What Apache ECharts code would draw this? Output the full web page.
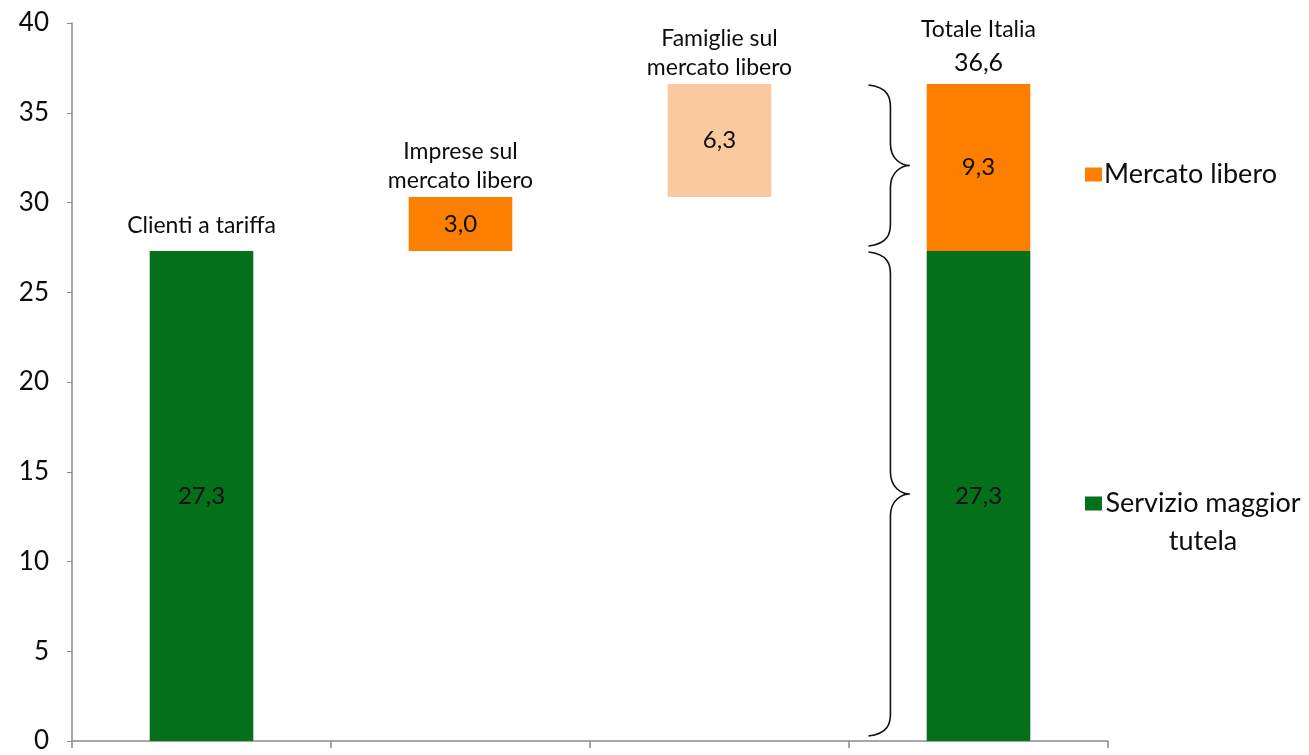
<!DOCTYPE html>
<html>
<head>
<meta charset="utf-8">
<script src="https://cdn.jsdelivr.net/npm/echarts@6/dist/echarts.min.js"></script>
<style>
html,body{margin:0;padding:0;background:#fff;}
#chart{width:1309px;height:755px;}
</style>
</head>
<body>
<div id="chart"></div>
<script>
// ---- data ----
const categories = ['Clienti a tariffa', 'Imprese sul mercato libero', 'Famiglie sul mercato libero', 'Totale Italia'];
const topLabels = ['Clienti a tariffa', 'Imprese sul\nmercato libero', 'Famiglie sul\nmercato libero', 'Totale Italia'];
const baseOffset = [0, 27.3, 30.3, 0];
const maggiorTutela = [27.3, '-', '-', 27.3];
const mercatoLibero = ['-', 3.0, '-', 9.3];
const famiglie = ['-', '-', 6.3, '-'];
const yTicks = [0, 5, 10, 15, 20, 25, 30, 35, 40];

// ---- helpers ----
const num = v => (typeof v === 'number' ? v : 0);
const fmt = v => v.toFixed(1).replace('.', ',');
const tops = categories.map((c, i) => baseOffset[i] + num(maggiorTutela[i]) + num(mercatoLibero[i]) + num(famiglie[i]));
const braces = [
  [3, baseOffset[3], baseOffset[3] + num(maggiorTutela[3])],
  [3, baseOffset[3] + num(maggiorTutela[3]), tops[3]]
];

const FONT = 'Lato';
const INK = '#0d0d0d';
const valueLabel = {
  show: true, position: 'inside', fontFamily: FONT, fontSize: 24, color: INK,
  formatter: p => fmt(p.value)
};

const chart = echarts.init(document.getElementById('chart'));
chart.setOption({
  animation: false,
  backgroundColor: '#fff',
  grid: { left: 72, right: 201, top: 23, bottom: 14, containLabel: false },
  legend: [
    {
      data: ['Mercato libero'], orient: 'vertical', left: 1080, top: 156,
      icon: 'rect', itemWidth: 17, itemHeight: 14, itemGap: 0,
      textStyle: { fontFamily: FONT, fontSize: 27, color: INK, padding: [0, 0, 0, -3] },
      selectedMode: false
    },
    {
      data: ['Servizio maggior tutela'], orient: 'vertical', left: 1080, top: 485,
      icon: 'rect', itemWidth: 17, itemHeight: 14, itemGap: 0,
      formatter: () => '{a|Servizio maggior}\n{a|tutela}',
      textStyle: {
        fontFamily: FONT, fontSize: 27, color: INK, padding: [38, 0, 0, -3],
        rich: { a: { fontFamily: FONT, fontSize: 27, color: INK, width: 198, align: 'center', lineHeight: 38 } }
      },
      selectedMode: false
    }
  ],
  xAxis: {
    type: 'category', data: categories, boundaryGap: true,
    axisLine: { lineStyle: { color: '#8a8a8a', width: 1.5 } },
    axisTick: { show: true, length: 7, lineStyle: { color: '#8a8a8a', width: 1.5 } },
    axisLabel: { show: false }
  },
  yAxis: {
    type: 'value', min: 0, max: 40, interval: 5,
    axisLine: { show: true, lineStyle: { color: '#8a8a8a', width: 1.5 } },
    axisTick: { show: true, length: 5, lineStyle: { color: '#8a8a8a' } },
    splitLine: { show: false },
    axisLabel: { fontFamily: FONT, fontSize: 26, color: INK, margin: 23,
      formatter: v => (yTicks.includes(v) ? String(v) : '') }
  },
  series: [
    {
      name: 'base', type: 'bar', stack: 'w', barWidth: '40%', silent: true,
      itemStyle: { color: 'transparent' }, data: baseOffset
    },
    {
      name: 'Servizio maggior tutela', type: 'bar', stack: 'w', barWidth: '40%',
      itemStyle: { color: '#05701a' }, label: valueLabel, data: maggiorTutela
    },
    {
      name: 'Mercato libero', type: 'bar', stack: 'w', barWidth: '40%',
      itemStyle: { color: '#fd7f00' }, label: valueLabel, data: mercatoLibero
    },
    {
      name: 'Famiglie sul mercato libero', type: 'bar', stack: 'w', barWidth: '40%',
      itemStyle: { color: '#f9c9a0' }, label: valueLabel, data: famiglie
    },
    {
      name: 'titles', type: 'scatter', symbolSize: 0, silent: true,
      itemStyle: { opacity: 1 },
      data: tops.map((v, i) => (i === 0 ? { value: v, label: { distance: 11 } } : v)),
      label: {
        show: true, position: 'top', distance: 2, fontFamily: FONT, fontSize: 23,
        lineHeight: 29, color: INK, align: 'center',
        formatter: p => p.dataIndex === 3
          ? topLabels[3] + '\n{b|' + fmt(tops[3]) + '}'
          : topLabels[p.dataIndex],
        rich: { b: { fontFamily: FONT, fontSize: 25, color: INK, lineHeight: 38, align: 'center' } }
      }
    },
    {
      name: 'braces', type: 'custom', silent: true,
      data: braces,
      renderItem: (params, api) => {
        const c = api.coord([api.value(0), api.value(1)]);
        const t = api.coord([api.value(0), api.value(2)]);
        const bw = api.size([1, 0])[0];
        const x0 = c[0] - 0.425 * bw;
        const xs = c[0] - 0.34 * bw;
        const xt = c[0] - 0.265 * bw;
        const yb = c[1] - 5, yt = t[1] + 1;
        const ym = (yb + yt) / 2;
        const r = 22;
        const d = 'M' + x0 + ' ' + yt +
          ' C' + (xs - 2) + ' ' + (yt + 2) + ' ' + xs + ' ' + (yt + r * 0.6) + ' ' + xs + ' ' + (yt + r) +
          ' L' + xs + ' ' + (ym - r) +
          ' C' + xs + ' ' + (ym - 6) + ' ' + (xt - 8) + ' ' + ym + ' ' + xt + ' ' + ym +
          ' C' + (xt - 8) + ' ' + ym + ' ' + xs + ' ' + (ym + 6) + ' ' + xs + ' ' + (ym + r) +
          ' L' + xs + ' ' + (yb - r) +
          ' C' + xs + ' ' + (yb - r * 0.6) + ' ' + (xs - 2) + ' ' + (yb - 2) + ' ' + x0 + ' ' + yb;
        return { type: 'path', shape: { pathData: d }, style: { stroke: '#111', lineWidth: 1.6, fill: null } };
      }
    }
  ]
});
</script>
</body>
</html>
